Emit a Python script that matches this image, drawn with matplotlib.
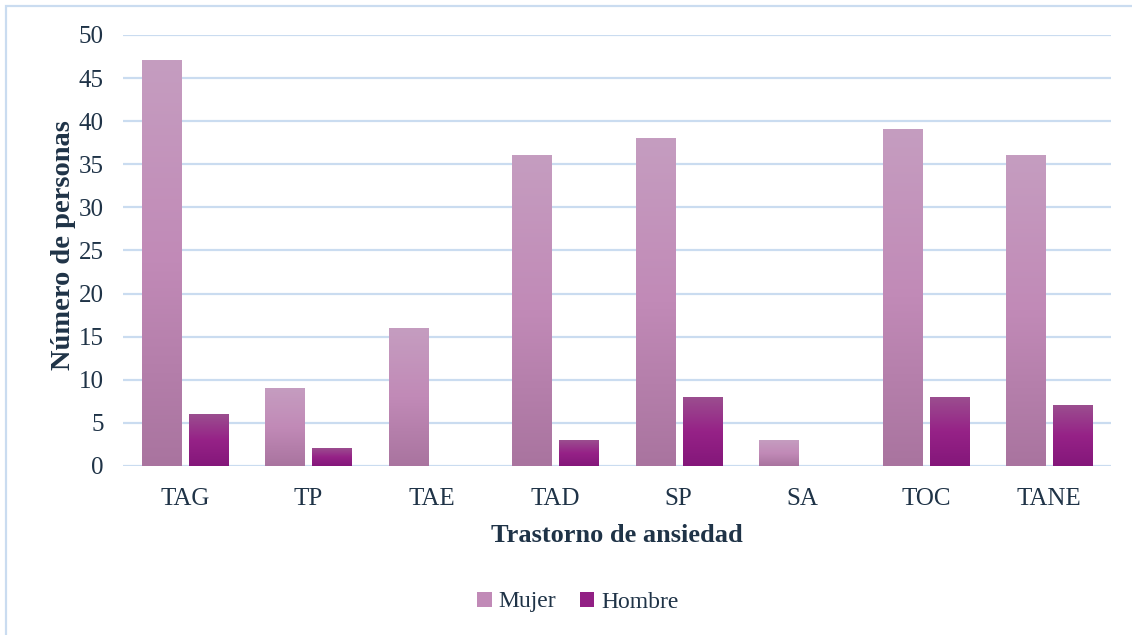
import numpy as np
import matplotlib
matplotlib.use("Agg")
import matplotlib.pyplot as plt
from matplotlib.colors import LinearSegmentedColormap
from matplotlib.patches import Rectangle

categories = ["TAG", "TP", "TAE", "TAD", "SP", "SA", "TOC", "TANE"]
mujer = [47, 9, 16, 36, 38, 3, 39, 36]
hombre = [6, 2, 0, 3, 8, 0, 8, 7]
series_names = ["Mujer", "Hombre"]

text_color = "#1f3347"
grid_color = "#cadcf0"

# vertical gradients (top -> middle -> bottom) for each series
mujer_cmap = LinearSegmentedColormap.from_list(
    "mujer", ["#c59dc0", "#c18ab7", "#a9749f"])
hombre_cmap = LinearSegmentedColormap.from_list(
    "hombre", ["#9b4e8f", "#962287", "#84177a"])

plt.rcParams["font.family"] = ["Liberation Serif", "DejaVu Serif"]

fig = plt.figure(figsize=(11.32, 6.35), dpi=100)
ax = fig.add_axes([123 / 1132, 1 - 466 / 635, (1111 - 123) / 1132, (466 - 35) / 635])

x = np.arange(len(categories))
width = 0.316
offset = 0.19

bars_m = ax.bar(x - offset, mujer, width, color="none", label=series_names[0], zorder=3)
bars_h = ax.bar(x + offset, hombre, width, color="none", label=series_names[1], zorder=3)

grad = np.linspace(0, 1, 256).reshape(-1, 1)
for bars, cmap in ((bars_m, mujer_cmap), (bars_h, hombre_cmap)):
    for patch in bars:
        h = patch.get_height()
        if h <= 0:
            continue
        x0 = patch.get_x()
        x1 = x0 + patch.get_width()
        ax.imshow(grad, cmap=cmap, aspect="auto", extent=(x0, x1, 0, h),
                  origin="upper", zorder=3, interpolation="bilinear")

ax.set_xlim(-0.5, len(categories) - 0.5)
ax.set_ylim(0, 50)
ax.set_yticks(np.arange(0, 51, 5))
ax.set_xticks(x)
ax.set_xticklabels(categories)

ax.grid(axis="y", color=grid_color, linewidth=1.6, zorder=0)
ax.set_axisbelow(True)
for side in ("top", "right", "left", "bottom"):
    ax.spines[side].set_visible(False)
ax.tick_params(axis="both", length=0, labelsize=18, colors=text_color)
ax.tick_params(axis="y", pad=14)
ax.tick_params(axis="x", pad=16)

ax.set_ylabel("Número de personas", fontsize=20.5, fontweight="bold",
              color=text_color)
ax.yaxis.set_label_coords(-0.0476, 0.513)
ax.set_xlabel("Trastorno de ansiedad", fontsize=19, fontweight="bold",
              color=text_color, labelpad=10)

# legend with gradient-coloured squares
handles = [Rectangle((0, 0), 1, 1, facecolor=mujer_cmap(0.5)),
           Rectangle((0, 0), 1, 1, facecolor=hombre_cmap(0.6))]
leg = fig.legend(handles, series_names, loc="center", bbox_to_anchor=(578 / 1132, 1 - 602 / 635),
                 ncol=2, frameon=False, fontsize=17, handlelength=0.6, handleheight=0.6,
                 handletextpad=0.3, columnspacing=1.0)
for t in leg.get_texts():
    t.set_color(text_color)

# chart border
fig.patches.append(Rectangle((6 / 1132, -0.05), 1.2, 1 - 6 / 635 + 0.05,
                             transform=fig.transFigure, fill=False,
                             edgecolor=grid_color, linewidth=1.6))

fig.savefig("out.png", dpi=100)
